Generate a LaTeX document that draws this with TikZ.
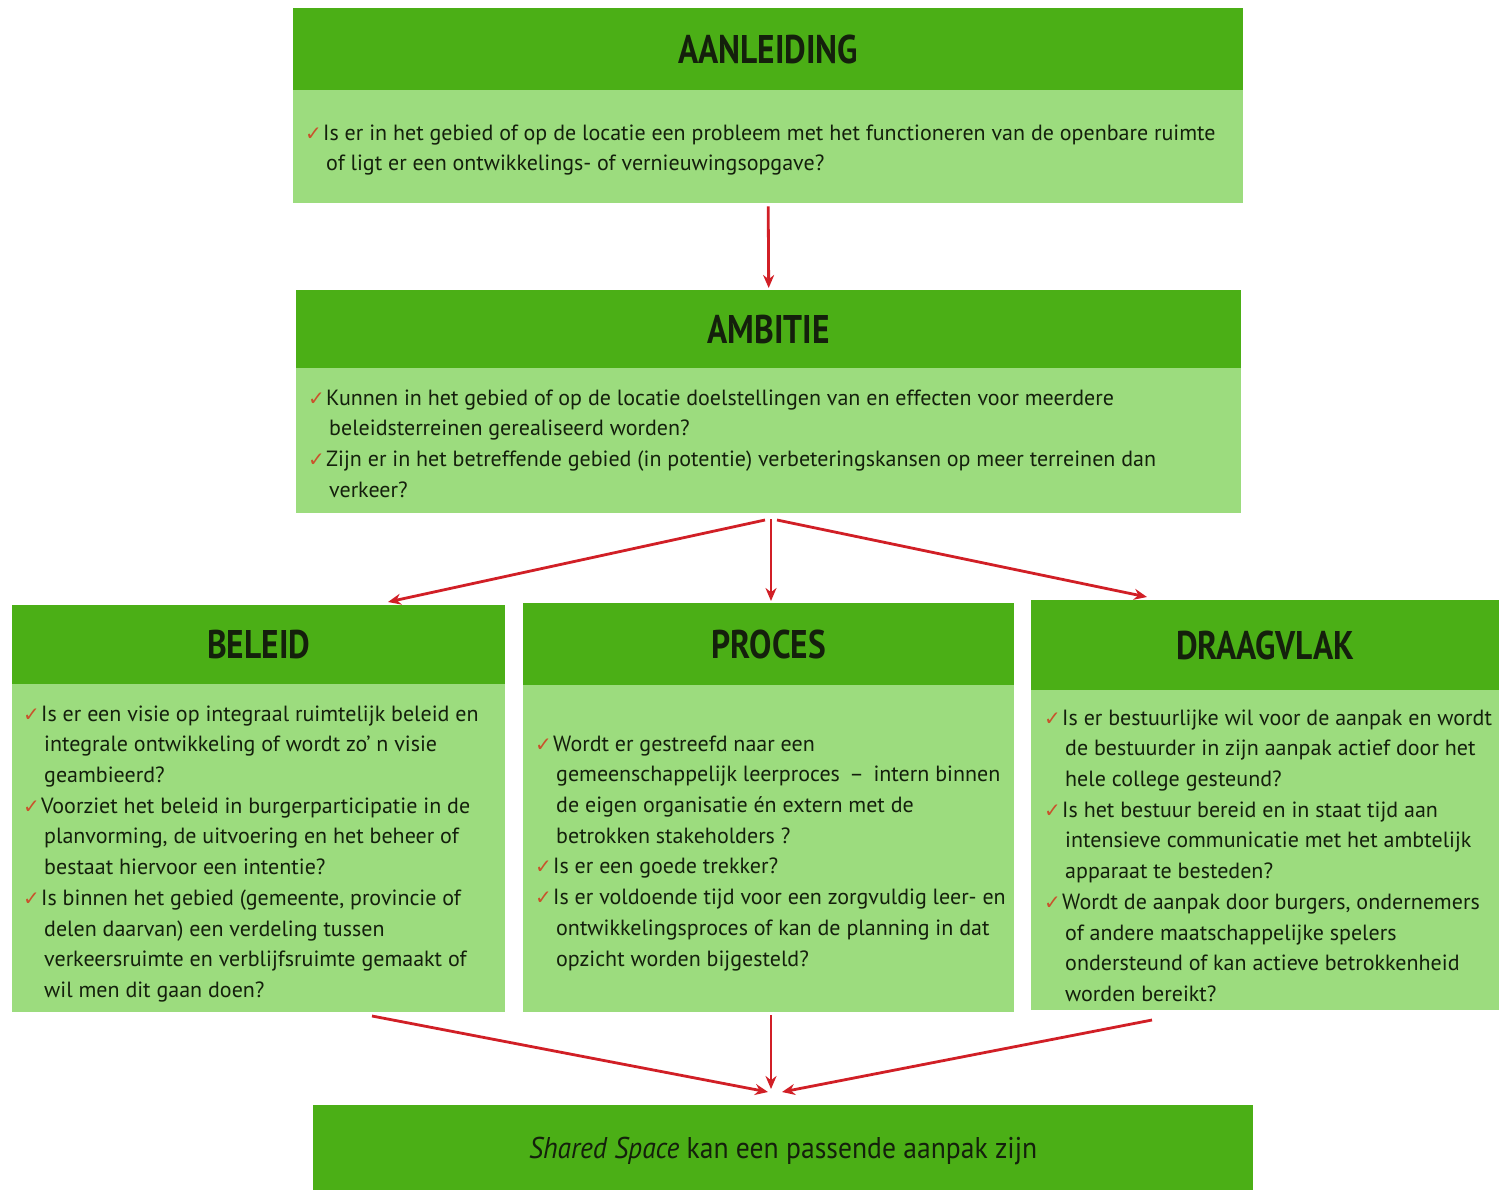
\documentclass[tikz,border=0pt]{standalone}
\usepackage{fontspec}
\setmainfont{PT Sans}
\newfontfamily\titlefont{PT Sans}[FakeStretch=0.835]
\newfontfamily\closefont{PT Sans}[FakeStretch=0.92]
\newfontfamily\checkfont{DejaVu Sans}
\usetikzlibrary{arrows.meta,calc}

\definecolor{darkgreen}{HTML}{4BAF16}
\definecolor{lightgreen}{HTML}{9CDC7E}
\definecolor{inkgreen}{HTML}{14200C}
\definecolor{arrowred}{HTML}{D11F26}
\definecolor{tickred}{HTML}{C9522C}

% check mark in front of each question, and the indent of its follow-on lines
\newcommand\tick{\makebox[17pt][l]{{\checkfont\fontsize{20}{20}\selectfont\color{tickred}\hspace*{-1pt}✓}}}
\newcommand\cont{\hspace*{20pt}}

\tikzset{
  header/.style={draw=none, fill=darkgreen, inner sep=0pt, anchor=north west,
    font=\titlefont\bfseries\fontsize{40}{42}\selectfont, text=inkgreen},
  panel/.style={draw=none, fill=lightgreen, inner sep=0pt, anchor=north west},
  questions/.style={inner sep=0pt, anchor=north west, align=left, text=inkgreen,
    font=\fontsize{22}{30.7}\selectfont},
  flow/.style={draw=arrowred, line width=2.8pt,
    -{Stealth[length=13pt,width=11pt]}},
}

\begin{document}
\begin{tikzpicture}[x=1pt,y=-1pt]
\useasboundingbox (0,0) rectangle (1499,1190);
\fill[white] (0,0) rectangle (1499,1190);

% AANLEIDING
\node[header, minimum width=950pt, minimum height=82pt] (aanh) at (293,8) {AANLEIDING};
\node[panel, minimum width=950pt, minimum height=113pt] (aanb) at (293,90) {};
\node[questions] (aant) at (306,118.5) {\strut\tick Is er in het gebied of op de locatie een probleem met het functioneren van de openbare ruimte\\
\cont of ligt er een ontwikkelings- of vernieuwingsopgave?};

% AMBITIE
\node[header, minimum width=945pt, minimum height=78pt] (ambh) at (296,290) {AMBITIE};
\node[panel, minimum width=945pt, minimum height=145pt] (ambb) at (296,368) {};
\node[questions] (ambt) at (309,383.5) {\strut\tick Kunnen in het gebied of op de locatie doelstellingen van en effecten voor meerdere\\
\cont beleidsterreinen gerealiseerd worden?\\
\tick Zijn er in het betreffende gebied (in potentie) verbeteringskansen op meer terreinen dan\\
\cont verkeer?};

% BELEID
\node[header, minimum width=493pt, minimum height=79pt] (belh) at (12,605) {BELEID};
\node[panel, minimum width=493pt, minimum height=328pt] (belb) at (12,684) {};
\node[questions] (belt) at (24,699.5) {\strut\tick Is er een visie op integraal ruimtelijk beleid en\\
\cont integrale ontwikkeling of wordt zo’ n visie\\
\cont geambieerd?\\
\tick Voorziet het beleid in burgerparticipatie  in de\\
\cont planvorming, de uitvoering en het beheer of\\
\cont bestaat hiervoor een intentie?\\
\tick Is binnen het gebied (gemeente, provincie of\\
\cont delen daarvan) een verdeling tussen\\
\cont verkeersruimte en verblijfsruimte gemaakt of\\
\cont wil men dit gaan doen?};

% PROCES
\node[header, minimum width=491pt, minimum height=82pt] (proh) at (523,603) {PROCES};
\node[panel, minimum width=491pt, minimum height=327pt] (prob) at (523,685) {};
\node[questions] (prot) at (536,729.5) {\strut\tick Wordt er gestreefd naar een\\
\cont gemeenschappelijk leerproces \,– \,intern binnen\\
\cont de eigen organisatie én extern met de\\
\cont betrokken stakeholders ?\\
\tick Is er een goede trekker?\\
\tick Is er voldoende tijd voor een zorgvuldig leer- en\\
\cont ontwikkelingsproces of kan de planning in dat\\
\cont opzicht worden bijgesteld?};

% DRAAGVLAK
\node[header, minimum width=468pt, minimum height=90pt] (drah) at (1031,600) {DRAAGVLAK};
\node[panel, minimum width=468pt, minimum height=320pt] (drab) at (1031,690) {};
\node[questions] (drat) at (1045,703.5) {\strut\tick Is er bestuurlijke wil voor de aanpak en wordt\\
\cont de bestuurder in zijn aanpak actief door het\\
\cont hele college gesteund?\\
\tick Is het bestuur bereid en in staat tijd aan\\
\cont intensieve communicatie met het ambtelijk\\
\cont apparaat te besteden?\\
\tick Wordt de aanpak door burgers, ondernemers\\
\cont of andere maatschappelijke spelers\\
\cont ondersteund of kan actieve betrokkenheid\\
\cont worden bereikt?};

% conclusion
\node[header, minimum width=940pt, minimum height=92pt,
  font=\closefont\fontsize{30}{32}\selectfont] (concl) at (313,1105)
  {\textit{Shared Space} kan een passende aanpak zijn};

% connector ends
\coordinate (fanL) at (765,520);
\coordinate (fanM) at (771,519);
\coordinate (fanR) at (777,520);
\coordinate (belIn) at (388,602);
\coordinate (proIn) at (771,601);
\coordinate (draIn) at (1147,597);
\coordinate (belOut) at (372,1016);
\coordinate (proOut) at (771,1015);
\coordinate (draOut) at (1152,1020);
\coordinate (conL) at (768,1092);
\coordinate (conM) at (771,1089);
\coordinate (conR) at (782,1092);

% connectors
\draw[flow] (aanb.south) ++(0,3) -- ($(ambh.north)+(0,-2)$);
\draw[flow] (fanL) -- (belIn);
\draw[flow] (fanM) -- (proIn);
\draw[flow] (fanR) -- (draIn);
\draw[flow] (belOut) -- (conL);
\draw[flow] (proOut) -- (conM);
\draw[flow] (draOut) -- (conR);
\end{tikzpicture}
\end{document}
